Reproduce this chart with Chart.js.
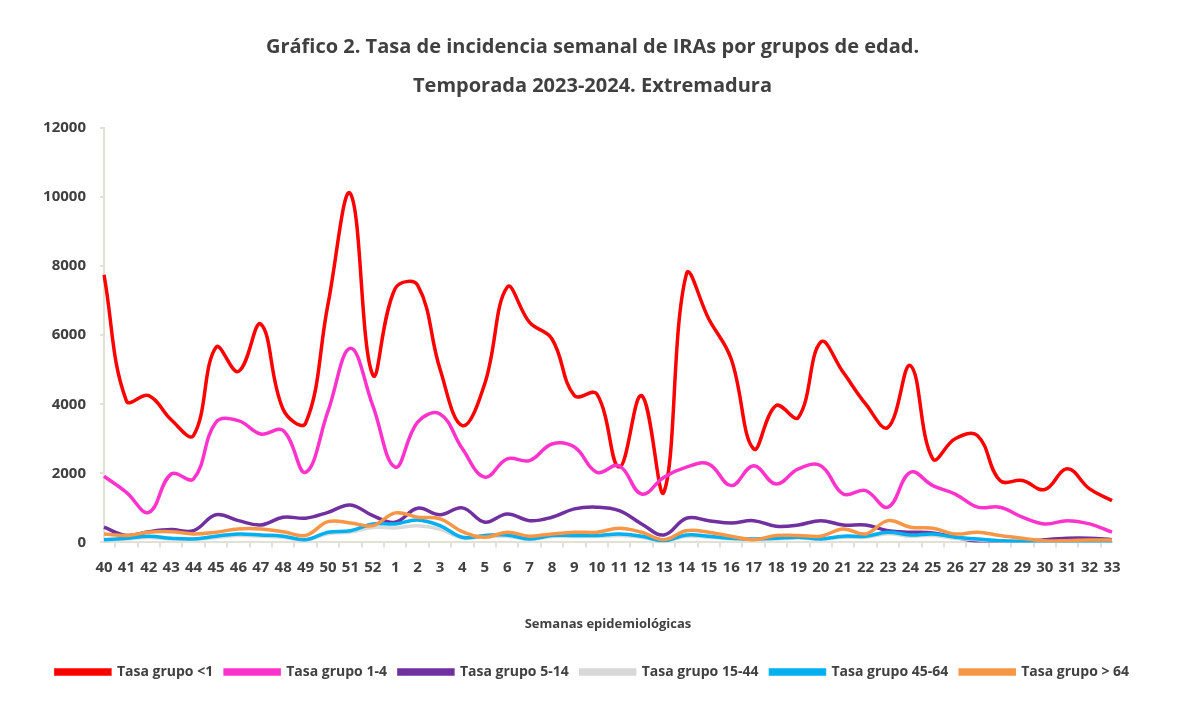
<!DOCTYPE html>
<html>
<head>
<meta charset="utf-8">
<script src="https://cdn.jsdelivr.net/npm/chart.js@4/dist/chart.umd.min.js"></script>
<style>
  html, body { margin: 0; padding: 0; background: #fff; }
  #wrap { width: 1185px; height: 702px; }
</style>
</head>
<body>
<div id="wrap"><canvas id="chart"></canvas></div>
<script>
// Semanas epidemiológicas 40/2023 - 33/2024
const weeks = ['40','41','42','43','44','45','46','47','48','49','50','51','52',
  '1','2','3','4','5','6','7','8','9','10','11','12','13','14','15','16','17',
  '18','19','20','21','22','23','24','25','26','27','28','29','30','31','32','33'];

const menor1 = [7750,4100,4250,3550,3100,5650,4950,6320,3850,3450,6900,10100,4850,
  7350,7450,5020,3380,4600,7390,6370,5890,4250,4300,2180,4250,1460,7770,6470,5310,2710,
  3960,3620,5800,4925,4010,3330,5120,2420,3000,3090,1790,1790,1530,2130,1550,1210];

const g1a4 = [1915,1450,870,1980,1840,3480,3525,3140,3240,2030,3800,5620,3960,
  2180,3480,3720,2710,1890,2420,2370,2850,2760,2030,2220,1400,1890,2180,2270,1645,2220,
  1690,2130,2220,1400,1500,1020,2030,1645,1400,1020,1020,730,535,630,535,295];

const g5a14 = [440,200,310,370,340,800,630,505,730,700,870,1085,775,
  585,990,800,1000,585,825,630,730,970,1020,920,535,215,700,630,565,630,
  470,505,630,505,505,340,295,275,150,25,20,20,80,120,120,80];

const g15a44 = [60,100,140,100,90,140,200,180,150,70,250,300,430,
  420,480,380,130,170,180,90,170,170,170,200,150,40,180,150,100,80,
  100,130,90,150,150,250,180,200,120,80,40,25,15,15,15,25];

const g45a64 = [80,120,180,120,100,180,245,215,180,80,295,340,535,
  535,650,485,150,200,215,100,200,200,200,245,180,50,215,180,120,100,
  120,150,100,180,180,295,215,245,150,100,50,30,20,20,20,30];

const mayor64 = [245,200,295,310,245,295,390,390,310,200,600,565,485,
  855,730,680,310,150,295,180,245,295,295,410,295,80,340,295,180,80,
  200,200,180,390,245,630,440,410,245,295,200,120,50,50,70,70];

const yTicks = [0, 2000, 4000, 6000, 8000, 10000, 12000];

const textColor = '#404040';
const axisColor = '#e3e1d5';
const fontFamily = "'Open Sans', 'Noto Sans', sans-serif";

function serie(label, data, color, order) {
  return {
    label: label,
    data: data,
    borderColor: color,
    backgroundColor: color,
    borderWidth: 3.5,
    pointRadius: 0,
    tension: 0.4,
    fill: false,
    yAxisID: 'y',
    order: order
  };
}

new Chart(document.getElementById('chart'), {
  type: 'line',
  data: {
    labels: weeks,
    datasets: [
      serie('Tasa grupo <1', menor1, '#ff0000', 6),
      serie('Tasa grupo 1-4', g1a4, '#ff33cc', 5),
      serie('Tasa grupo 5-14', g5a14, '#7030a0', 4),
      serie('Tasa grupo 15-44', g15a44, '#d9d9d9', 3),
      serie('Tasa grupo 45-64', g45a64, '#00b0f0', 2),
      serie('Tasa grupo > 64', mayor64, '#f79646', 1)
    ]
  },
  options: {
    responsive: true,
    maintainAspectRatio: false,
    animation: false,
    layout: { padding: { left: 0, right: 0, bottom: 13 } },
    plugins: {
      tooltip: { enabled: false },
      title: {
        display: true,
        text: ['Gráfico 2. Tasa de incidencia semanal de IRAs por grupos de edad.',
               'Temporada 2023-2024. Extremadura'],
        color: textColor,
        font: { family: fontFamily, size: 20, weight: 'bold', lineHeight: 1.95 },
        padding: { top: 28, bottom: 22 }
      },
      legend: {
        position: 'bottom',
        labels: {
          color: textColor,
          font: { family: fontFamily, size: 14, weight: 'bold' },
          boxWidth: 54,
          boxHeight: 4,
          padding: 12,
          sort: (a, b) => a.datasetIndex - b.datasetIndex
        }
      }
    },
    scales: {
      x: {
        offset: false,
        grid: {
          offset: true,
          drawOnChartArea: false,
          drawTicks: true,
          tickLength: 5,
          color: axisColor,
          lineWidth: 2
        },
        border: { color: axisColor, width: 2 },
        ticks: {
          color: textColor,
          font: { family: fontFamily, size: 15, weight: 'bold' },
          autoSkip: false,
          maxRotation: 0,
          padding: 11
        },
        title: {
          display: true,
          text: 'Semanas epidemiológicas',
          color: textColor,
          font: { family: fontFamily, size: 13, weight: 'bold' },
          padding: { top: 29, bottom: 21 }
        }
      },
      y: {
        position: 'left',
        min: 0,
        max: 12000,
        afterBuildTicks: (axis) => { axis.ticks = yTicks.map(v => ({ value: v })); },
        afterFit: (axis) => { axis.width = 104; },
        grid: {
          drawOnChartArea: false,
          drawTicks: true,
          tickLength: 4,
          color: axisColor,
          lineWidth: 2
        },
        border: { color: axisColor, width: 2 },
        ticks: {
          color: textColor,
          font: { family: fontFamily, size: 15, weight: 'bold' },
          padding: 14,
          callback: (v) => String(v)
        }
      },
      // empty right margin, as in the original
      margen: {
        position: 'right',
        display: true,
        afterFit: (axis) => { axis.width = 73; },
        grid: { display: false },
        border: { display: false },
        ticks: { display: false }
      }
    }
  }
});
</script>
</body>
</html>
